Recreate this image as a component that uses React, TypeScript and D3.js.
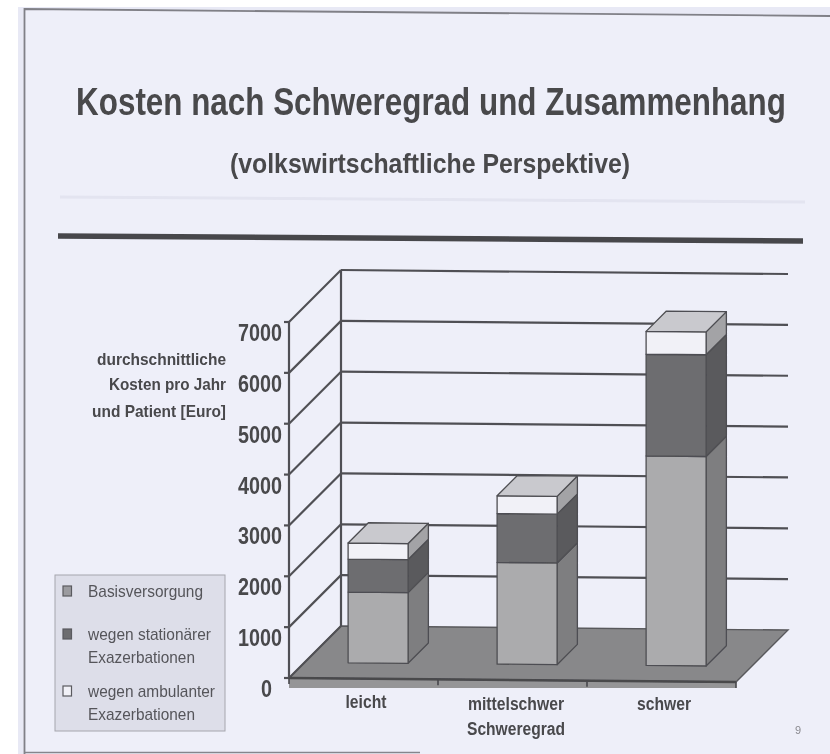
import React from 'react';
import * as d3 from 'd3';

// Values
const categories = ['leicht', 'mittelschwer', 'schwer'];
const seriesKeys = ['basis', 'stationaer', 'ambulant'];
const basis = [1390, 2000, 4120];
const stationaer = [650, 960, 2000];
const ambulant = [315, 350, 450];
const yTicks = [0, 1000, 2000, 3000, 4000, 5000, 6000, 7000];
const legendLabels = [['Basisversorgung'], ['wegen stationärer', 'Exazerbationen'], ['wegen ambulanter', 'Exazerbationen']];
const yTitle = ['durchschnittliche', 'Kosten pro Jahr', 'und Patient [Euro]'];

const WIDTH = 830;
const HEIGHT = 754;
const INK = '#48484c';
const LINE = '#505054';
const FONT = '"Liberation Sans", Arial, sans-serif';

const frontFill = ['#ababad', '#6d6d70', '#f1f1f7'];
const sideFill = ['#7e7e80', '#5a5a5d', '#a3a3a6'];
const topFill = '#c9c9ce';
const legendFill = ['#9b9b9f', '#6d6d70', '#f1f1f7'];

const x = d3.scaleBand<string>().domain(categories).range([289, 736]);
const y = d3.scaleLinear().domain([0, 7000]).range([678, 322]);

const DEPTH = 52; // px shift of the 3D box, both ways
const TILT = 0.009; // the scan is slightly rotated
const BAR_W = 60;

// front-plane px + depth fraction -> screen point
const project = (px: number, value: number, d = 0): [number, number] => [
  px + DEPTH * d,
  y(value) - DEPTH * d + TILT * (px - 289),
];

const poly = (pts: [number, number][]) => d3.line()(pts) + 'Z';

const rows = categories.map((c, i) => ({ cat: c, basis: basis[i], stationaer: stationaer[i], ambulant: ambulant[i] }));
const stacked = d3.stack<any>().keys(seriesKeys)(rows);

export default function App() {
  const xMin = x.range()[0];
  const xMax = x.range()[1];
  const boundaries = [xMin, ...categories.map((c) => x(c)! + x.bandwidth())];

  return (
    <svg
      width={WIDTH}
      height={HEIGHT}
      style={{ position: 'absolute', left: 0, top: 0, display: 'block' }}
      fontFamily={FONT}
    >
      <defs>
        <filter id="scan" x="-2%" y="-2%" width="104%" height="104%">
          <feGaussianBlur stdDeviation="0.55" />
        </filter>
      </defs>
      <rect width={WIDTH} height={HEIGHT} fill="#ffffff" />
      <rect x={18} y={7} width={WIDTH} height={HEIGHT} fill="#e8e9f5" />
      <path d="M24,9 L830,16 L830,754 L24,754 Z" fill="#eeeff9" />

      <g filter="url(#scan)">
        {/* page edge */}
        <path d="M24.5,754 L24.5,9 L830,16" fill="none" stroke="#808087" strokeWidth={1.8} />
        <path d="M24,752.5 L420,752.5" fill="none" stroke="#85858c" strokeWidth={1.4} />

        {/* show-through from the other side of the sheet */}
        <path d="M60,197 L805,202" stroke="#e3e4f0" strokeWidth={3} />

        <text
          transform="translate(431,115) scale(0.805,1)"
          textAnchor="middle"
          fontSize={39}
          fontWeight="bold"
          fill={INK}
        >
          Kosten nach Schweregrad und Zusammenhang
        </text>
        <text x={430} y={173} textAnchor="middle" fontSize={28} fontWeight="bold" fill={INK} textLength={400} lengthAdjust="spacingAndGlyphs">
          (volkswirtschaftliche Perspektive)
        </text>
        <path d="M58,236 L803,241" stroke="#47474b" strokeWidth={5.5} />

        {/* y axis title */}
        {yTitle.map((t, i) => (
          <text
            key={t}
            x={226}
            y={[365, 390, 417][i]}
            textAnchor="end"
            fontSize={17}
            fontWeight="bold"
            fill={INK}
            textLength={[129, 117, 134][i]}
            lengthAdjust="spacingAndGlyphs"
          >
            {t}
          </text>
        ))}

        {/* floor */}
        <path
          d={poly([project(xMin, 0), project(xMax, 0), [xMax, y(0) + TILT * (xMax - xMin) + 6], [xMin, y(0) + 10]])}
          fill="#959597"
        />
        <path
          d={poly([project(xMin, 0), project(xMax, 0), project(xMax, 0, 1), project(xMin, 0, 1)])}
          fill="#88888a"
          stroke="#58585b"
          strokeWidth={1.4}
        />

        {/* grid + walls */}
        {yTicks.map((t) => (
          <g key={t} fill="none" stroke={LINE} strokeWidth={2.2}>
            {t > 0 && <path d={d3.line()([project(xMin, t, 1), project(xMax, t, 1)])!} />}
            <path d={d3.line()([project(xMin, t), project(xMin, t, 1)])!} />
            <path d={d3.line()([[xMin - 5, y(t)], [xMin, y(t)]])!} />
          </g>
        ))}
        <path d={d3.line()([project(xMin, 0), project(xMin, 7000)])!} fill="none" stroke={LINE} strokeWidth={2.2} />
        <path d={d3.line()([project(xMin, 0, 1), project(xMin, 7000, 1)])!} fill="none" stroke={LINE} strokeWidth={2.2} />

        {/* x axis */}
        <path d={d3.line()([project(xMin, 0), project(xMax, 0)])!} fill="none" stroke="#48484c" strokeWidth={2.4} />
        {boundaries.map((b) => (
          <path key={b} d={d3.line()([project(b, 0), [b, y(0) + TILT * (b - xMin) + 6]])!} fill="none" stroke="#48484c" strokeWidth={1.6} />
        ))}

        {/* bars */}
        {categories.map((c, ci) => {
          const left = x(c)! + (x.bandwidth() - BAR_W) / 2 - 1;
          const right = left + BAR_W;
          const d0 = 0.3;
          const d1 = 0.69;
          const top = stacked[stacked.length - 1][ci][1];
          return (
            <g key={c} stroke="#4e4e52" strokeWidth={1.3} strokeLinejoin="round">
              {stacked.map((s, si) => {
                const [v0, v1] = s[ci];
                return (
                  <g key={s.key}>
                    <path
                      d={poly([project(right, v0, d0), project(right, v0, d1), project(right, v1, d1), project(right, v1, d0)])}
                      fill={sideFill[si]}
                    />
                    <path
                      d={poly([project(left, v0, d0), project(right, v0, d0), project(right, v1, d0), project(left, v1, d0)])}
                      fill={frontFill[si]}
                    />
                  </g>
                );
              })}
              <path
                d={poly([project(left, top, d0), project(right, top, d0), project(right, top, d1), project(left, top, d1)])}
                fill={topFill}
              />
            </g>
          );
        })}

        {/* y tick labels */}
        {yTicks.map((t) => (
          <text
            key={t}
            x={t > 0 ? 282 : 272}
            y={y(t) + 19}
            textAnchor="end"
            fontSize={23}
            fontWeight="bold"
            fill={INK}
            textLength={t > 0 ? 44 : 11}
            lengthAdjust="spacingAndGlyphs"
          >
            {t}
          </text>
        ))}

        {/* category labels */}
        {categories.map((c, i) => (
          <text
            key={c}
            x={[366, 516, 664][i]}
            y={[708, 710, 710][i]}
            textAnchor="middle"
            fontSize={17.5}
            fontWeight="bold"
            fill={INK}
            textLength={[41, 96, 54][i]}
            lengthAdjust="spacingAndGlyphs"
          >
            {c}
          </text>
        ))}
        <text x={516} y={735} textAnchor="middle" fontSize={17.5} fontWeight="bold" fill={INK} textLength={98} lengthAdjust="spacingAndGlyphs">
          Schweregrad
        </text>

        {/* legend */}
        <rect x={55} y={575} width={170} height={156} fill="#dddee9" stroke="#a6a6ad" strokeWidth={1} />
        {legendLabels.map((lines, i) => {
          const rowY = [591, 634, 691][i];
          return (
            <g key={lines[0]}>
              <rect x={63} y={rowY - 5} width={8.5} height={10} fill={legendFill[i]} stroke="#5a5a5f" strokeWidth={1.2} />
              {lines.map((l, j) => (
                <text
                  key={l}
                  x={88}
                  y={rowY + 6 + j * 23}
                  fontSize={17}
                  fill="#55555a"
                  textLength={[[115], [123, 107], [127, 107]][i][j]}
                  lengthAdjust="spacingAndGlyphs"
                >
                  {l}
                </text>
              ))}
            </g>
          );
        })}

        <text x={798} y={734} textAnchor="middle" fontSize={11} fill="#8a8a90">
          9
        </text>
      </g>
    </svg>
  );
}
